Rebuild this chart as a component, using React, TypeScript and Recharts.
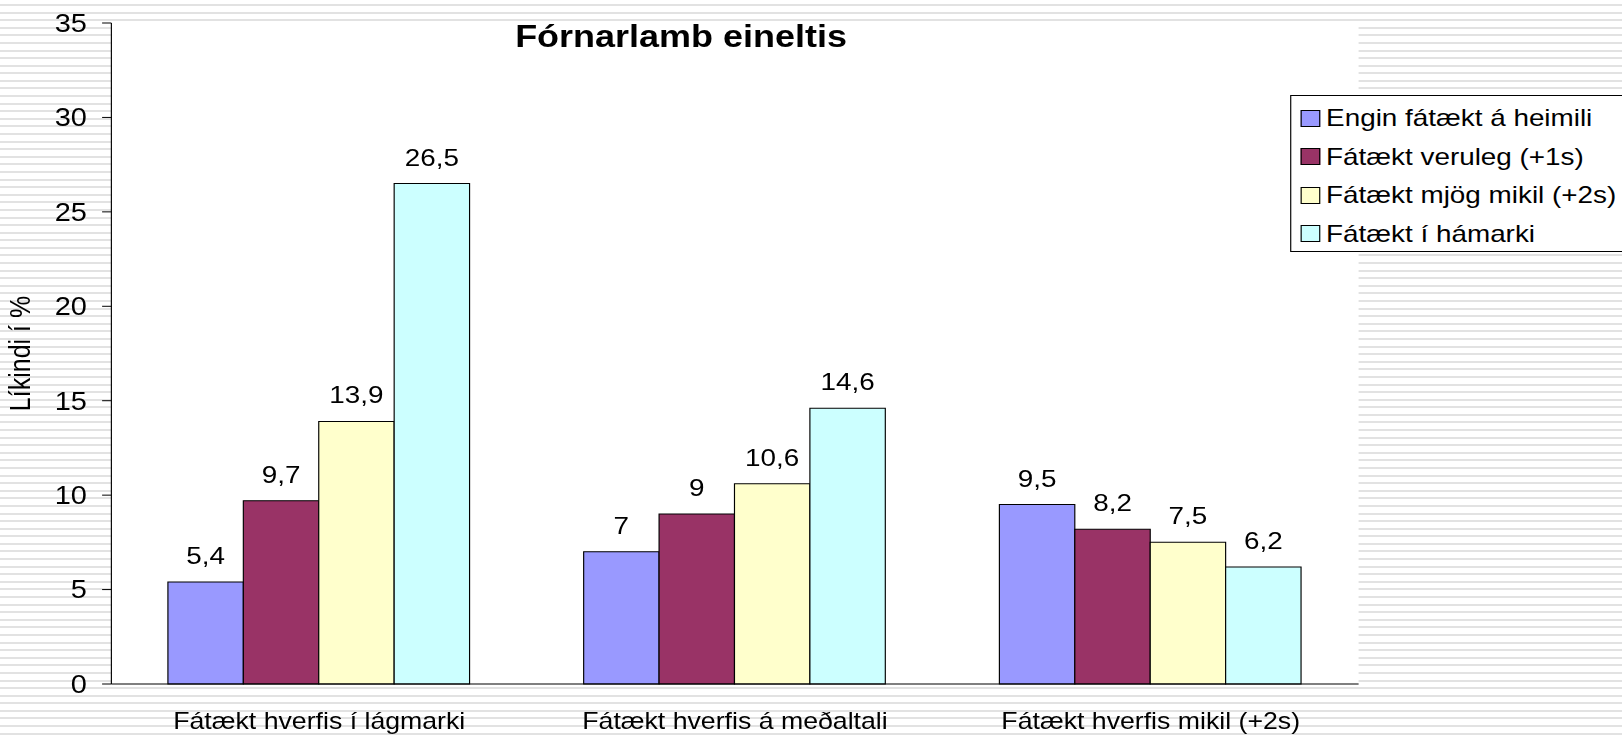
import React from 'react';
import {
  BarChart,
  Bar,
  XAxis,
  YAxis,
  CartesianGrid,
  Legend,
  LabelList,
} from 'recharts';

// flokkar á x-ás
const categories = [
  'Fátækt hverfis í lágmarki',
  'Fátækt hverfis á meðaltali',
  'Fátækt hverfis mikil (+2s)',
];

// gildi hverrar raðar (líkindi í %)
const enginFataekt = [5.4, 7, 9.5];
const fataektVeruleg = [9.7, 9, 8.2];
const fataektMjogMikil = [13.9, 10.6, 7.5];
const fataektHamarki = [26.5, 14.6, 6.2];

const seriesNames = [
  'Engin fátækt á heimili',
  'Fátækt veruleg (+1s)',
  'Fátækt mjög mikil (+2s)',
  'Fátækt í hámarki',
];
const seriesColors = ['#9999FF', '#993366', '#FFFFCC', '#CCFFFF'];

const yTicks = [0, 5, 10, 15, 20, 25, 30, 35];

const title = 'Fórnarlamb eineltis';
const yLabel = 'Líkindi í %';

const rows = categories.map((name, i) => ({
  name,
  s0: enginFataekt[i],
  s1: fataektVeruleg[i],
  s2: fataektMjogMikil[i],
  s3: fataektHamarki[i],
}));

// myndin er teygð lárétt, svo allt er teiknað mjórra og skalað upp
const SCALE = 1.1602;
const W = 1398;
const H = 740;
const FONT = '"Liberation Sans", Arial, sans-serif';

const stripes =
  'repeating-linear-gradient(to bottom, #ffffff 0px, #ffffff 4px, #e2e2e2 4px, #e2e2e2 6px, #ffffff 6px, #ffffff 7.59px)';

const fmt = (v: any) => String(v).replace('.', ',');

// skýringar í sömu röð og raðirnar
const renderLegend = (props: any) => {
  const payload = [...(props.payload || [])].sort(
    (a: any, b: any) => seriesNames.indexOf(a.value) - seriesNames.indexOf(b.value)
  );
  return (
    <div
      style={{
        border: '1px solid #000',
        background: '#fff',
        boxSizing: 'border-box',
        width: 320,
        height: 157,
        padding: '3px 0 0 8px',
        fontFamily: FONT,
      }}
    >
      {payload.map((entry: any) => {
        const idx = seriesNames.indexOf(entry.value);
        return (
          <div
            key={entry.value}
            style={{ display: 'flex', alignItems: 'center', height: 38.5 }}
          >
            <span
              style={{
                display: 'inline-block',
                width: 15,
                height: 15,
                border: '1px solid #000',
                background: seriesColors[idx] || entry.color,
                marginRight: 5,
              }}
            />
            <span style={{ fontSize: 24, color: '#000', whiteSpace: 'nowrap' }}>
              {entry.value}
            </span>
          </div>
        );
      })}
    </div>
  );
};

const App: React.FC = () => {
  return (
    <div
      style={{
        position: 'absolute',
        left: 0,
        top: 0,
        width: 1622,
        height: H,
        overflow: 'hidden',
        background: stripes,
      }}
    >
      <div
        style={{
          position: 'relative',
          width: W,
          height: H,
          transform: `scaleX(${SCALE})`,
          transformOrigin: '0 0',
          fontFamily: FONT,
        }}
      >
        <BarChart
          width={W}
          height={H}
          data={rows}
          margin={{ top: 23, right: 227, left: 0, bottom: 0 }}
          barCategoryGap="13.6%"
          barGap={0}
        >
          <CartesianGrid
            fill="#ffffff"
            horizontal={false}
            vertical={false}
            stroke="none"
          />
          <XAxis
            xAxisId="edge"
            type="number"
            domain={[0, 3]}
            ticks={[0, 1, 2, 3]}
            allowDataOverflow
            tick={false}
            axisLine={false}
            tickSize={9}
            tickLine={{ stroke: '#000' }}
            height={0}
          />
          <XAxis
            dataKey="name"
            interval={0}
            tickLine={false}
            tickSize={8}
            tickMargin={21}
            height={56}
            axisLine={{ stroke: '#000' }}
            tick={{ fontSize: 23, fill: '#000' }}
          />
          <YAxis
            width={96}
            domain={[0, 35]}
            ticks={yTicks}
            interval={0}
            tickSize={8}
            tickMargin={13}
            axisLine={{ stroke: '#000' }}
            tickLine={{ stroke: '#000' }}
            tick={{ fontSize: 25, fill: '#000' }}
            label={{
              value: yLabel,
              angle: -90,
              position: 'insideLeft',
              offset: 17,
              style: { textAnchor: 'middle', fontSize: 25, fill: '#000' },
            }}
          />
          <Legend
            layout="vertical"
            align="center"
            verticalAlign="middle"
            itemSorter={null}
            content={renderLegend}
            wrapperStyle={{ left: 1112, top: 95, width: 320, height: 157 }}
          />
          {seriesNames.map((name, i) => (
            <Bar
              key={name}
              dataKey={`s${i}`}
              name={name}
              fill={seriesColors[i]}
              stroke="#000"
              strokeWidth={1}
              isAnimationActive={false}
            >
              <LabelList
                dataKey={`s${i}`}
                position="top"
                offset={18}
                formatter={fmt}
                fill="#000"
                fontSize={24}
              />
            </Bar>
          ))}
        </BarChart>
        <div
          style={{
            position: 'absolute',
            left: 337,
            top: 21,
            width: 500,
            textAlign: 'center',
            fontSize: 31,
            lineHeight: '31px',
            fontWeight: 'bold',
            color: '#000',
            whiteSpace: 'nowrap',
          }}
        >
          {title}
        </div>
      </div>
    </div>
  );
};

export default App;
